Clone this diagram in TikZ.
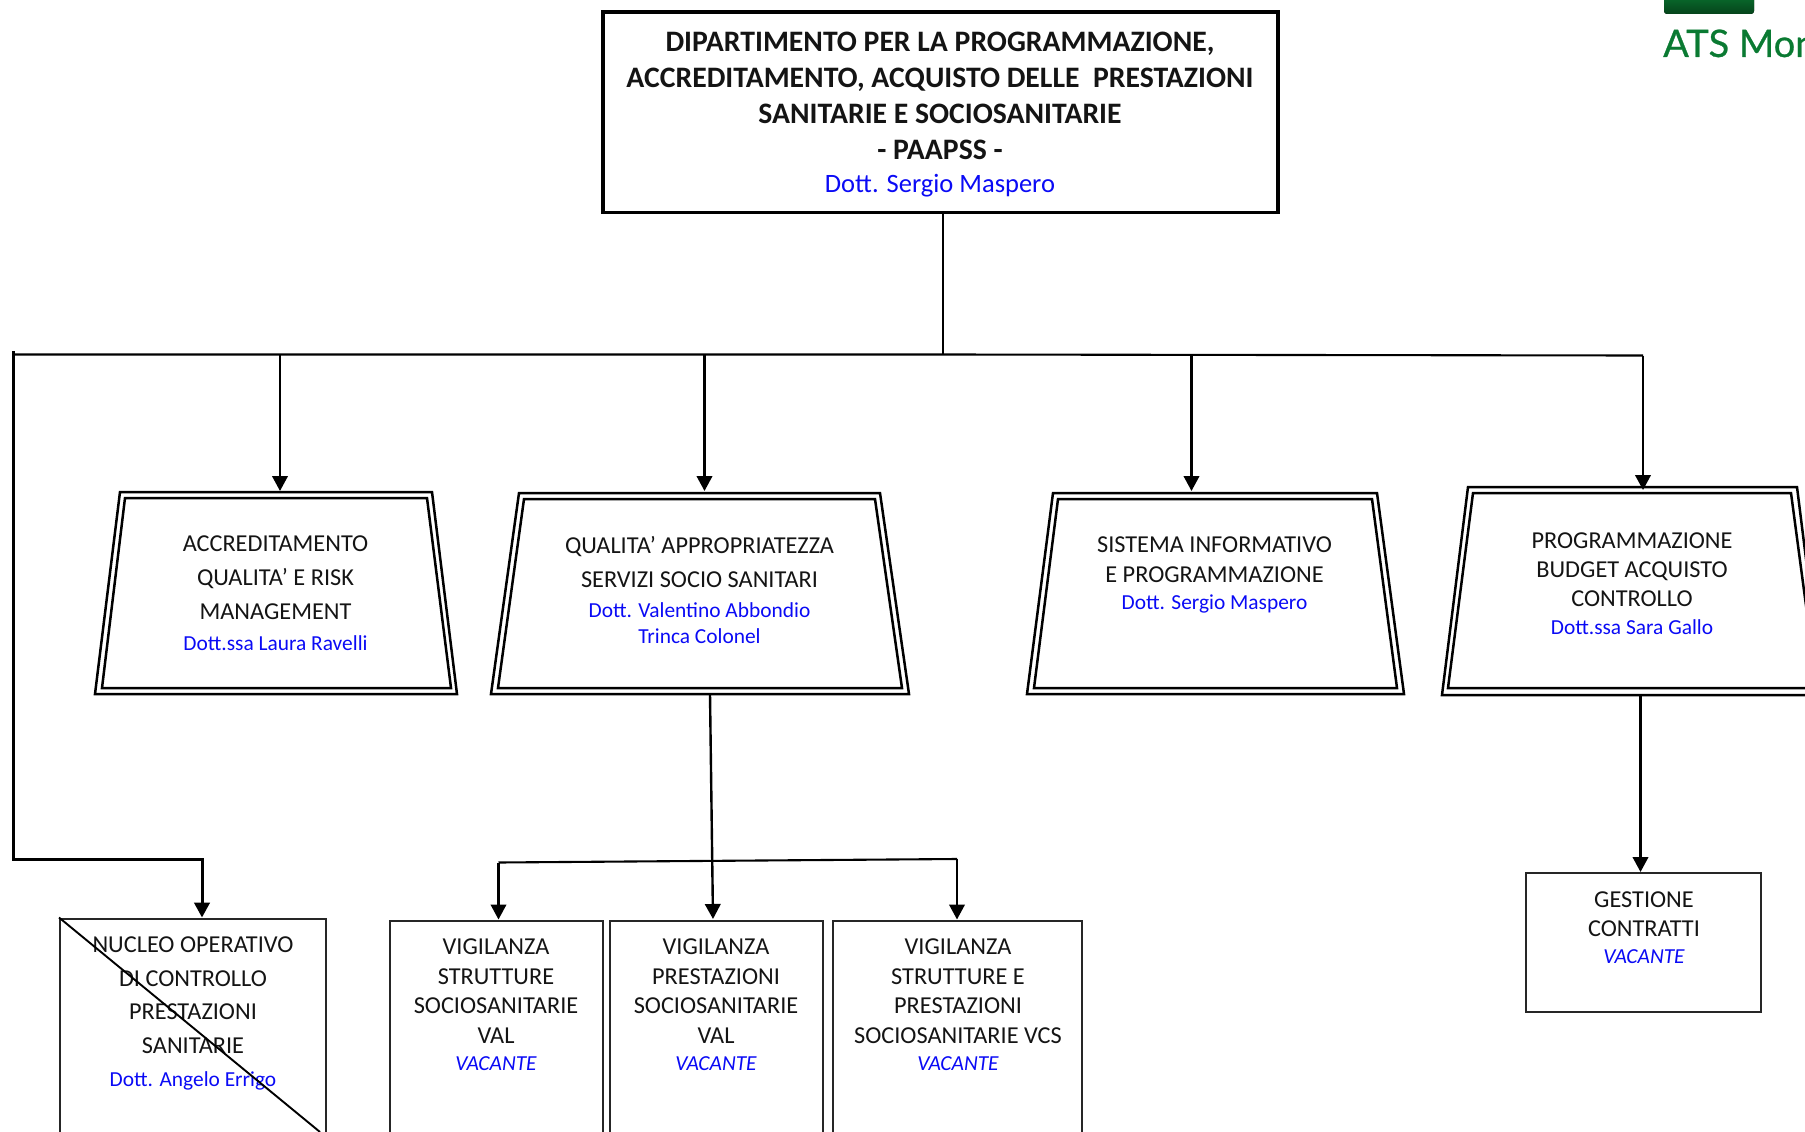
\documentclass[tikz,border=0pt]{standalone}
\usepackage{fontspec}
\setmainfont{Carlito}
\usetikzlibrary{arrows.meta}
\newfontfamily\logofont[FakeBold=0.7]{Lato}
\definecolor{nameblue}{RGB}{10,10,245}
\definecolor{logogreen}{RGB}{10,122,50}
\newcommand{\blu}{\color{nameblue}\fontsize{21.4}{21.4}\selectfont}
\newcommand{\vac}{\color{nameblue}\itshape\fontsize{21.4}{21.4}\selectfont}
\tikzset{
  x=1pt,y=-1pt,
  conn/.style={line width=2.4pt,-{Triangle[length=15pt,width=15.5pt]}},
  conn2/.style={line width=3pt,-{Triangle[length=15pt,width=15.5pt]}},
  plainline/.style={line width=2.1pt},
  trap/.style={line width=2.5pt,line join=miter,draw=black},
  rectbox/.style={draw=black!85,line width=2.2pt,rectangle,inner sep=0,anchor=north west},
  lbl/.style={align=center,inner sep=0,anchor=north,text=black!92},
  sz/.style 2 args={font=\fontsize{#1}{#2}\selectfont},
}
\begin{document}
\begin{tikzpicture}
\useasboundingbox (0,0) rectangle (1805,1132);
\clip (0,0) rectangle (1805,1132);
% logo
\fill[top color=logogreen,bottom color=black!45!logogreen,rounded corners=3pt] (1664,-10) rectangle (1754,14);
\node[anchor=base west,inner sep=0,text=logogreen,font=\logofont\fontsize{38}{38}\selectfont] (logo) at (1663,57) {ATS Mon};
% top box
\node[rectbox,draw=black,line width=3.6pt,minimum width=675pt,minimum height=200pt] (top) at (601,10.5) {};
\node[lbl,font=\bfseries\fontsize{29.7}{36}\selectfont] (topt) at (940,32) {DIPARTIMENTO PER LA PROGRAMMAZIONE,\\ACCREDITAMENTO, ACQUISTO DELLE\ \ PRESTAZIONI\\SANITARIE E SOCIOSANITARIE\\- PAAPSS -\\[-3pt]{\mdseries\color{nameblue}\fontsize{26.5}{26.5}\selectfont Dott. Sergio Maspero}};
% trapezoids
\draw[trap] (120,492) -- (432,492) -- (457,694) -- (95,694) -- cycle;
\draw[trap] (125,498) -- (427,498) -- (451,688) -- (102,688) -- cycle;
\node[lbl,sz={24.3}{34}] (t1) at (275.5,536) {ACCREDITAMENTO\\QUALITA’ E RISK\\MANAGEMENT\\[-3pt]{\blu Dott.ssa Laura Ravelli}};
\draw[trap] (519,493) -- (880,493) -- (909,694) -- (491,694) -- cycle;
\draw[trap] (524,499) -- (875,499) -- (902,688) -- (498,688) -- cycle;
\node[lbl,sz={24.3}{34}] (t2) at (699.5,536) {QUALITA’ APPROPRIATEZZA\\SERVIZI SOCIO SANITARI\\[-4pt]{\blu Dott. Valentino Abbondio}\\[-8pt]{\blu Trinca Colonel}};
\draw[trap] (1053,493) -- (1377,493) -- (1404,694) -- (1027,694) -- cycle;
\draw[trap] (1058,499) -- (1372,499) -- (1397,688) -- (1034,688) -- cycle;
\node[lbl,sz={24.3}{30}] (t3) at (1214.5,537) {SISTEMA INFORMATIVO\\E PROGRAMMAZIONE\\[-3pt]{\blu Dott. Sergio Maspero}};
\draw[trap] (1468,487) -- (1797,487) -- (1823,695) -- (1442,695) -- cycle;
\draw[trap] (1473,493) -- (1791,493) -- (1817,688) -- (1448,688) -- cycle;
\node[lbl,sz={24.3}{29}] (t4) at (1632,533) {PROGRAMMAZIONE\\BUDGET ACQUISTO\\CONTROLLO\\[-1pt]{\blu Dott.ssa Sara Gallo}};
% boxes
\node[rectbox,minimum width=266pt,minimum height=230pt] (nuc) at (59,917.5) {};
\node[lbl,sz={24.3}{33.5}] (nuct) at (193,937) {NUCLEO OPERATIVO\\DI CONTROLLO\\PRESTAZIONI\\SANITARIE\\{\blu Dott. Angelo Errigo}};
\node[rectbox,minimum width=213pt,minimum height=230pt] (v1) at (388.5,919.5) {};
\node[lbl,sz={24.3}{29.5}] (v1t) at (496,939) {VIGILANZA\\STRUTTURE\\SOCIOSANITARIE\\VAL\\[-2pt]{\vac VACANTE}};
\node[rectbox,minimum width=213pt,minimum height=230pt] (v2) at (608.5,919.5) {};
\node[lbl,sz={24.3}{29.5}] (v2t) at (716,939) {VIGILANZA\\PRESTAZIONI\\SOCIOSANITARIE\\VAL\\[-2pt]{\vac VACANTE}};
\node[rectbox,minimum width=249pt,minimum height=230pt] (v3) at (832,919.5) {};
\node[lbl,sz={24.3}{29.5}] (v3t) at (958,939) {VIGILANZA\\STRUTTURE E\\PRESTAZIONI\\SOCIOSANITARIE VCS\\[-2pt]{\vac VACANTE}};
\node[rectbox,minimum width=235pt,minimum height=139pt] (ges) at (1524.5,872) {};
\node[lbl,sz={24.3}{29}] (gest) at (1644,892) {GESTIONE\\CONTRATTI\\[-2pt]{\vac VACANTE}};
% crossing line
\coordinate (xend) at (320,1132);
\draw[line width=1.9pt] (nuc.north west) -- (xend);
% connectors
\coordinate (j0) at (943,354.5);
\coordinate (jl) at (13.5,351);
\coordinate (jl0) at (13.5,354.5);
\coordinate (a1) at (280,354.5);
\coordinate (a2) at (704.5,354.5);
\coordinate (a3) at (1191.5,355);
\coordinate (a4) at (1643,355.5);
\coordinate (a1e) at (280,491);
\coordinate (a2e) at (704.5,491);
\coordinate (a3e) at (1191.5,491);
\coordinate (a4e) at (1643,490);
\draw[plainline] (top.south -| j0) -- (j0);
\draw[plainline] (jl0) -- (j0) -- (a4);
\draw[conn] (a1) -- (a1e);
\draw[conn] (a2) -- (a2e);
\draw[conn] (a3) -- (a3e);
\draw[conn] (a4) -- (a4e);
\coordinate (nj) at (202,859.5);
\coordinate (nl) at (13.5,859.5);
\draw[conn2] (jl) -- (nl) -- (nj) -- (nuc.north -| nj);
\coordinate (q0) at (710,694);
\coordinate (q1) at (713,919);
\draw[conn] (q0) -- (q1);
\coordinate (bl) at (498.5,862.5);
\coordinate (br) at (957,859);
\draw[plainline] (bl) -- (br);
\draw[conn] (bl) -- (v1.north -| bl);
\draw[conn] (br) -- (v3.north -| br);
\coordinate (g0) at (1640.5,694);
\draw[conn] (g0) -- (ges.north -| g0);
\end{tikzpicture}
\end{document}
